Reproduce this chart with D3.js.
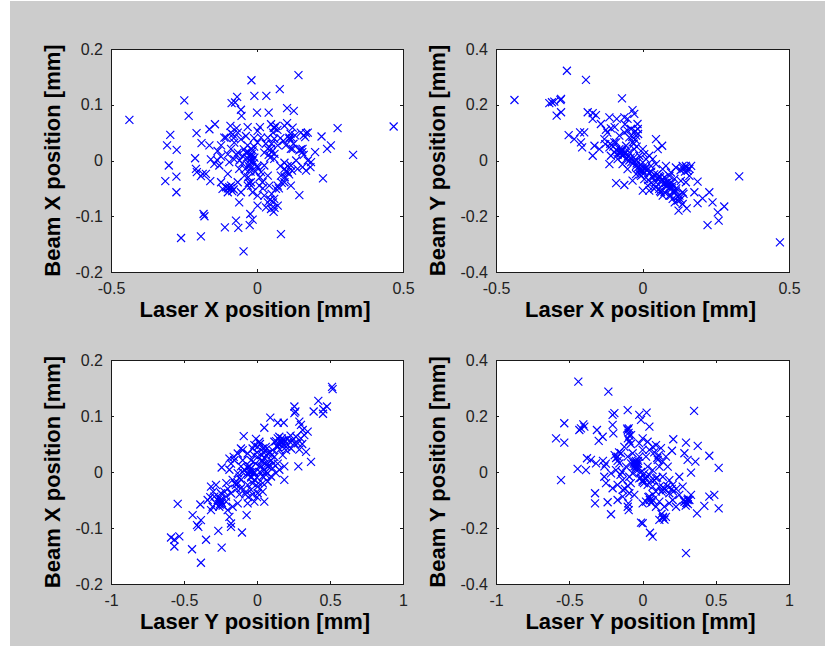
<!DOCTYPE html>
<html>
<head>
<meta charset="utf-8">
<script src="https://cdn.jsdelivr.net/npm/d3@7"></script>
<style>
  html, body { margin: 0; padding: 0; background: #ffffff; }
  svg { display: block; }
</style>
</head>
<body>
<svg id="chart" width="825" height="646"></svg>
<script>
// ---------------- DATA ----------------
// Panel 1: Laser X position [mm] vs Beam X position [mm]
const laserXvsBeamX = [
[-0.437,0.073],[0.468,0.061],[0.142,0.153],[-0.019,0.144],[0.078,0.128],[-0.249,0.108],[-0.234,0.080],
[-0.068,0.114],[-0.087,0.103],[-0.075,0.104],[-0.055,0.091],[-0.053,0.080],
[-0.009,0.116],[0.032,0.116],[0.000,0.086],[0.040,0.086],[0.103,0.094],[0.126,0.089],
[0.276,0.058],[0.329,0.010],[0.226,-0.032],[0.221,0.043],[0.253,0.027],[0.240,0.021],[0.199,0.015],[0.185,-0.003],[0.183,-0.012],
[0.145,-0.062],[0.082,-0.132],[-0.046,-0.163],[-0.023,-0.096],[-0.015,-0.106],[-0.025,-0.116],[-0.072,-0.108],[-0.064,-0.121],
[-0.110,-0.120],[-0.192,-0.136],[-0.260,-0.139],[-0.183,-0.096],[-0.180,-0.100],
[-0.276,-0.057],[-0.314,-0.037],[-0.276,-0.029],[-0.302,-0.009],[-0.275,0.019],[-0.308,0.027],[-0.297,0.046],
[-0.212,0.004],[-0.207,0.049],[-0.209,-0.015],[-0.206,-0.021],[-0.190,0.031],[-0.163,0.027],[-0.192,-0.028],[-0.175,-0.024],
[-0.160,-0.037],[-0.163,0.056],[-0.144,0.065],[-0.123,0.027],[-0.123,0.007],[-0.137,0.001],[-0.112,0.041],
[-0.091,0.062],[-0.066,0.050],[-0.032,0.060],[0.002,0.053],[0.048,0.065],[0.057,0.059],[0.094,0.062],[0.111,0.041],
[0.122,0.059],[0.103,0.067],[0.059,0.039],[0.168,0.049],[0.174,0.050],[0.156,0.021],[0.145,0.018],[0.122,0.021],
[-0.021,0.021],[-0.021,0.009],[-0.015,0.000],[-0.026,-0.006],[-0.023,-0.015],[-0.038,0.014],[-0.009,0.005],[-0.032,0.027],
[-0.049,0.008],[-0.066,0.014],[-0.078,0.002],[-0.095,-0.003],[-0.061,-0.015],[-0.043,-0.027],[-0.066,-0.039],[-0.089,-0.045],
[-0.106,-0.048],[-0.118,-0.051],[-0.100,-0.057],[-0.055,-0.057],[-0.021,-0.039],[-0.015,-0.057],[-0.061,-0.075],[0.002,-0.063],
[0.019,-0.039],[0.025,-0.063],[0.037,-0.075],[0.048,-0.087],[0.031,-0.084],[0.059,-0.069],[0.065,-0.051],[0.071,-0.045],
[0.094,-0.039],[0.116,-0.045],[0.082,-0.027],[0.094,-0.015],[0.105,-0.021],[0.059,0.003],[0.071,0.027],[0.037,0.021],
[0.025,0.014],[0.048,0.021],[0.002,0.032],[0.014,0.041],[0.037,0.041],[0.094,-0.004],[0.116,-0.009],[0.134,0.000],
[0.139,-0.015],[0.156,-0.012],[0.174,0.000],[0.168,-0.018],[0.116,0.021],[0.099,0.027],[0.111,0.039],[0.025,-0.009],
[0.014,-0.021],[0.002,-0.013],[0.037,-0.027],[0.042,-0.045],[0.008,-0.045],[-0.129,-0.009],[-0.146,-0.006],[-0.158,0.002],
[-0.135,0.017],[-0.100,0.011],[-0.089,0.021],[-0.078,0.032],[-0.055,0.038],[-0.038,0.044],[-0.083,0.047],[-0.106,0.041],
[-0.123,-0.039],[-0.032,-0.045],[0.002,-0.081],[0.071,-0.081],[0.057,-0.092],[-0.100,-0.024],[-0.186,-0.024],
[-0.020,0.005],[-0.018,0.012],[-0.025,0.000],[-0.030,0.015],[-0.012,-0.005],[-0.028,-0.010],[-0.015,0.018],[-0.035,0.005],
[-0.022,-0.020],[-0.010,0.025],[-0.040,-0.015],[-0.005,-0.020],[-0.028,-0.040],[-0.020,-0.045],[-0.030,-0.030],
[0.040,0.010],[0.050,0.015],[0.045,0.005],[0.060,0.012],[0.030,0.030],
[0.100,-0.020],[0.110,-0.025],[0.095,-0.030],[0.120,-0.018],[0.105,-0.010],
[0.120,0.040],[0.115,0.048],[0.130,0.045],[0.125,0.030],[0.160,0.045],[0.165,0.042],[0.150,0.050],
[0.155,0.015],[0.160,0.010],[0.150,0.020],[0.060,0.058],[0.065,0.062],[0.070,0.055],[0.055,0.050],[0.050,0.030],
[-0.090,-0.050],[-0.085,-0.055],[-0.095,-0.048],[-0.080,-0.052],[-0.100,-0.050],
[-0.060,0.000],[-0.050,-0.005],[-0.070,0.010],[-0.045,0.020],
[0.000,-0.010],[0.010,-0.030],[0.020,-0.050],[0.050,-0.060],[0.055,-0.075],[0.060,-0.085],[0.045,-0.070],
[0.080,-0.010],[0.075,-0.050],[0.085,-0.040],[-0.080,0.040],[-0.090,0.050],[-0.070,0.058],[-0.010,0.040],
[0.010,0.060],[0.080,0.040],[0.090,0.035]
];

// Panel 2: Laser X position [mm] vs Beam Y position [mm]
const laserXvsBeamY = [
[-0.437,0.217],[-0.258,0.322],[-0.193,0.289],[-0.070,0.223],[-0.318,0.206],[-0.309,0.209],[-0.301,0.211],[-0.278,0.221],
[-0.280,0.217],[-0.293,0.161],[-0.278,0.173],[0.330,-0.057],[0.469,-0.294],[0.222,-0.232],[0.260,-0.216],[0.257,-0.186],
[0.279,-0.165],[0.239,-0.150],[0.228,-0.114],[0.188,-0.153],[0.205,-0.136],[0.123,-0.180],[0.151,-0.172],[0.137,-0.156],
[0.188,-0.076],[0.177,-0.114],[0.160,-0.055],[0.154,-0.037],[0.137,-0.019],[0.114,-0.025],[0.103,-0.138],[0.092,-0.126],
[0.069,-0.126],[0.063,-0.114],[0.001,-0.108],[0.023,-0.108],[-0.090,-0.081],[-0.062,-0.088],[-0.113,-0.013],[-0.170,0.017],
[-0.164,0.053],[-0.147,0.041],[-0.252,0.091],[-0.233,0.077],[-0.210,0.065],[-0.206,0.047],[-0.199,0.101],[-0.213,0.101],
[-0.187,0.173],[-0.170,0.170],[-0.159,0.163],[-0.170,0.149],[-0.142,0.131],[-0.113,0.155],[-0.108,0.115],[-0.088,0.149],
[-0.062,0.155],[-0.051,0.149],[-0.034,0.181],[-0.028,0.167],[-0.017,0.131],[-0.130,0.077],[-0.127,0.059],[-0.113,0.047],
[-0.096,0.065],[-0.079,0.089],[-0.062,0.101],[-0.051,0.107],[0.046,0.077],[0.067,0.053],[0.052,0.041],
[-0.096,0.029],[-0.079,0.041],[-0.068,0.017],[-0.085,0.005],[-0.056,0.005],[-0.068,-0.013],[-0.045,0.029],[-0.034,0.065],
[-0.022,0.089],[-0.016,0.113],[-0.028,0.041],[-0.039,-0.007],[-0.022,-0.019],[-0.011,-0.037],[-0.005,-0.055],[-0.022,-0.049],
[0.001,-0.007],[0.012,-0.025],[0.023,-0.043],[0.006,-0.067],[0.035,-0.061],[0.046,-0.078],[0.057,-0.055],[0.069,-0.073],
[0.080,-0.090],[0.092,-0.102],[0.086,-0.078],[0.103,-0.090],[0.114,-0.108],[0.126,-0.126],[0.120,-0.144],[0.137,-0.114],
[0.069,-0.031],[0.046,-0.013],[0.035,0.005],[0.023,0.017],[0.006,0.023],[-0.011,0.017],[-0.051,-0.031],[-0.034,-0.072],
[0.018,-0.090],[0.040,-0.102],[0.075,-0.114],[0.097,-0.126],[0.057,-0.102],[0.148,-0.078],[0.131,-0.073],[0.166,-0.019],
[0.148,-0.019],[0.001,0.041],[0.012,0.005],[0.029,-0.019],[-0.090,0.065],[-0.108,0.017],[-0.056,0.053],[-0.045,0.083],
[-0.039,0.113],[0.001,-0.025],[0.092,-0.055],[0.109,-0.066],[0.097,-0.043],[0.080,-0.019],
[-0.074,0.030],[-0.060,0.025],[-0.030,0.010],[-0.020,0.000],[0.015,-0.035],[0.050,-0.050],[0.075,-0.060],[0.100,-0.080],
[-0.080,0.030],[-0.075,0.025],[-0.070,0.035],[-0.085,0.020],[-0.065,0.020],[-0.072,0.040],[-0.060,0.032],[-0.090,0.038],
[-0.010,-0.030],[-0.005,-0.040],[0.000,-0.035],[-0.015,-0.025],[0.005,-0.045],[-0.008,-0.050],[0.010,-0.030],
[-0.030,0.060],[-0.025,0.075],[-0.020,0.050],[-0.035,0.085],[-0.015,0.095],[-0.025,0.105],
[0.090,-0.085],[0.095,-0.095],[0.100,-0.100],[0.085,-0.090],[0.105,-0.110],[0.110,-0.115],[0.080,-0.080],[0.115,-0.100],
[0.060,-0.060],[0.065,-0.070],[0.050,-0.065],[0.040,-0.050],[0.030,-0.040],[0.070,-0.085],
[0.140,-0.030],[0.150,-0.025],[0.160,-0.030],[0.145,-0.040],[0.130,-0.035],
[-0.050,0.015],[-0.040,0.010],[-0.045,0.000],[-0.030,-0.005],[-0.020,-0.010],
[0.120,-0.130],[0.130,-0.140],[0.110,-0.150],[0.140,-0.120],
[-0.100,0.050],[-0.110,0.060],[-0.120,0.100],[-0.125,0.110],[-0.095,0.120],[-0.060,0.130],
[0.020,-0.070],[0.030,-0.080],[0.045,-0.095],[0.060,-0.110]
];

// Panel 3: Laser Y position [mm] vs Beam X position [mm]
const laserYvsBeamX = [
[0.518,0.148],[0.514,0.152],[0.420,0.127],[0.388,0.108],[0.454,0.112],[0.479,0.117],[0.452,0.104],[0.256,0.117],
[0.263,0.108],[0.256,0.105],[0.091,0.097],[0.142,0.088],[0.183,0.088],[0.050,0.079],[0.290,0.090],[0.301,0.084],
[0.313,0.075],[0.347,0.072],[0.324,0.066],[0.336,0.036],[0.370,0.018],[0.283,0.010],[0.187,-0.014],[-0.091,0.064],
[-0.007,0.059],[-0.242,0.008],[-0.543,-0.057],[-0.441,-0.077],[-0.384,-0.086],[-0.411,-0.095],[-0.402,-0.098],
[-0.589,-0.117],[-0.566,-0.121],[-0.532,-0.115],[-0.566,-0.133],[-0.445,-0.138],[-0.384,-0.162],[-0.349,-0.121],
[-0.242,-0.135],[-0.265,-0.105],[-0.178,-0.092],[-0.178,-0.098],[-0.103,-0.108],[-0.071,-0.077],[-0.189,-0.080],
[-0.201,-0.068],[-0.388,-0.058],[-0.315,-0.068],[-0.304,-0.062],[-0.338,-0.050],[-0.315,-0.026],[-0.281,-0.023],
[-0.292,-0.044],[-0.269,-0.050],[-0.247,-0.053],[-0.258,-0.062],[-0.281,-0.056],[-0.224,-0.035],[-0.212,-0.044],
[-0.178,-0.038],[-0.167,-0.062],[-0.132,-0.056],[-0.064,-0.056],[-0.018,-0.053],[0.050,-0.053],
[-0.087,0.004],[-0.041,-0.008],[-0.064,-0.002],[-0.110,-0.014],[-0.132,-0.002],[-0.098,0.021],[-0.041,0.021],[0.005,0.027],
[0.016,0.010],[0.050,0.004],[0.073,0.015],[0.096,0.021],[0.119,0.027],[0.142,0.045],[0.164,0.051],[0.187,0.057],
[0.210,0.048],[0.233,0.042],[0.256,0.051],[0.267,0.063],[0.142,0.060],[0.119,0.054],[0.107,0.039],[0.073,0.033],
[0.039,0.042],[0.005,0.045],[-0.030,0.042],[-0.064,0.033],[-0.098,0.039],[-0.132,0.033],[-0.155,0.021],[-0.178,0.015],
[-0.189,0.004],[-0.167,-0.014],[-0.144,-0.023],[-0.110,-0.029],[-0.075,-0.035],[-0.041,-0.032],[0.005,-0.026],[0.039,-0.020],
[0.073,-0.017],[0.096,-0.008],[0.130,-0.002],[0.153,0.004],[0.187,0.010],[0.142,0.015],[0.039,-0.008],[-0.018,-0.014],
[-0.064,-0.023],[-0.189,0.024],[-0.110,0.010],[-0.018,-0.002],[0.062,-0.005],[0.107,0.007],[0.176,0.030],[0.199,0.039],
[0.244,0.057],[0.279,0.051],[0.153,0.063],[-0.110,0.042],[-0.160,0.027],[-0.247,-0.038],[-0.212,-0.053],[0.005,-0.038],
[0.039,-0.035],[0.073,0.010],[-0.018,0.048],[0.016,0.054],
[-0.050,0.010],[-0.020,0.000],[0.030,0.020],[0.090,0.035],[0.170,0.055],[-0.120,-0.040],[-0.030,-0.020],[0.060,0.045],
[-0.050,0.000],[-0.045,0.005],[-0.060,-0.005],[-0.040,-0.010],[-0.055,0.010],[-0.035,0.000],[-0.065,0.008],
[0.040,0.020],[0.050,0.025],[0.035,0.030],[0.055,0.015],[0.045,0.035],[0.030,0.010],
[0.150,0.050],[0.160,0.055],[0.140,0.045],[0.170,0.060],[0.155,0.040],[0.180,0.050],[0.130,0.055],
[-0.250,-0.050],[-0.240,-0.055],[-0.260,-0.045],[-0.235,-0.060],[-0.255,-0.058],
[-0.150,-0.020],[-0.140,-0.030],[-0.130,-0.020],[-0.120,-0.010],[-0.100,0.000],
[0.000,-0.010],[0.010,-0.020],[0.020,0.000],[0.060,0.000],[0.080,0.010],[0.100,0.030],[0.110,0.015],
[-0.020,0.030],[-0.010,0.015],[0.000,0.035],[0.020,0.050],[0.060,0.040],
[0.210,0.060],[0.220,0.055],[0.230,0.065],[0.200,0.045],
[-0.080,-0.040],[-0.060,-0.045],[-0.030,-0.040],[0.000,-0.045],[0.020,-0.030],
[-0.200,-0.030],[-0.210,-0.020],[-0.300,-0.035],[-0.320,-0.045],[0.300,0.060],[0.310,0.050],[0.290,0.040]
];

// Panel 4: Laser Y position [mm] vs Beam Y position [mm]
const laserYvsBeamY = [
[-0.438,0.323],[-0.233,0.287],[0.352,0.218],[-0.101,0.221],[-0.192,0.210],[-0.204,0.204],[-0.022,0.204],[0.028,0.212],
[-0.010,0.186],[-0.534,0.174],[-0.590,0.120],[-0.534,0.105],[-0.404,0.170],[-0.420,0.156],[-0.397,0.162],[-0.431,0.150],
[-0.311,0.150],[-0.272,0.126],[-0.299,0.111],[-0.204,0.168],[-0.199,0.138],[-0.094,0.156],[-0.078,0.132],[0.047,0.162],
[0.001,0.120],[0.035,0.108],[0.210,0.117],[0.297,0.105],[0.377,0.093],[0.456,0.058],[0.520,0.015],[0.201,0.076],
[0.286,0.067],[0.361,0.037],[0.331,-0.002],[0.308,0.043],[-0.556,-0.029],[-0.443,0.011],[-0.386,0.007],[-0.379,0.049],
[-0.352,0.043],[-0.317,0.031],[-0.324,-0.076],[-0.324,-0.112],[-0.238,-0.108],[-0.215,-0.151],[-0.097,-0.112],
[-0.094,-0.136],[-0.101,-0.124],[-0.010,-0.181],[0.001,-0.183],[0.051,-0.217],[0.069,-0.231],[0.297,-0.290],
[0.115,-0.171],[0.138,-0.165],[0.160,-0.160],[0.372,-0.148],[0.422,-0.121],[0.456,-0.088],[0.490,-0.082],[0.520,-0.130],
[0.286,-0.106],[0.308,-0.100],[0.331,-0.082],[0.251,-0.082],[0.229,-0.124],[0.183,-0.112],[0.251,-0.017],[0.183,-0.029],
[0.183,-0.076],[0.138,-0.064],[0.115,-0.052],[0.092,-0.070],[0.047,-0.088],[0.024,-0.106],[0.001,-0.112],
[-0.044,0.019],[-0.056,0.037],[-0.033,0.007],[-0.067,-0.005],[-0.090,-0.017],[-0.022,-0.023],[0.001,-0.035],[0.035,-0.046],
[0.069,-0.052],[0.104,0.043],[0.138,0.037],[0.115,0.019],[0.069,0.007],[0.035,0.019],[0.024,0.055],[0.047,0.079],
[0.069,0.090],[0.092,0.096],[0.126,0.085],[0.001,0.079],[-0.022,0.102],[-0.124,0.090],[-0.147,0.067],[-0.170,0.055],
[-0.158,0.031],[-0.181,0.007],[-0.215,-0.005],[-0.261,-0.017],[-0.249,-0.040],[-0.204,-0.058],[-0.170,-0.046],[-0.135,-0.064],
[-0.090,-0.076],[-0.056,-0.082],[-0.135,-0.029],[-0.113,0.019],[-0.101,0.055],[-0.067,0.067],[-0.078,0.031],[-0.022,0.055],
[0.013,-0.005],[0.047,-0.011],[0.092,-0.023],[0.138,-0.017],[0.172,0.019],[0.160,0.055],[0.206,-0.046],[0.274,-0.052],
[0.206,-0.100],[0.149,-0.124],[0.115,-0.106],[0.069,-0.100],[0.092,-0.124],[-0.170,-0.100],[-0.135,-0.088],
[-0.040,0.030],[-0.050,0.010],[-0.030,0.040],[-0.010,0.000],[0.020,-0.020],[0.060,-0.030],[0.300,-0.110],[0.310,-0.095],
[-0.045,0.025],[-0.040,0.035],[-0.050,0.030],[-0.055,0.020],[-0.035,0.020],[-0.045,0.040],[-0.060,0.030],[-0.030,0.030],
[0.290,-0.105],[0.300,-0.110],[0.310,-0.115],[0.280,-0.100],[0.320,-0.100],[0.295,-0.120],
[-0.100,0.150],[-0.095,0.140],[-0.105,0.155],[-0.090,0.130],
[0.000,-0.030],[0.010,-0.040],[-0.010,-0.020],[0.020,-0.025],
[0.150,-0.060],[0.160,-0.065],[0.140,-0.055],[0.130,-0.070],[0.170,-0.050],
[-0.180,0.050],[-0.170,0.040],[-0.190,0.060],[-0.160,0.070],
[0.050,-0.100],[0.060,-0.110],[0.040,-0.090],[0.070,-0.080],[0.100,0.050],[0.110,0.060],[0.080,0.070],
[-0.250,0.030],[-0.260,0.020],[-0.270,0.040],[0.200,-0.060],[0.210,-0.070],[0.230,-0.060],
[-0.120,-0.060],[-0.100,-0.050],[-0.080,-0.040],[0.140,-0.160],[0.150,-0.170],[0.130,-0.150],
[-0.100,0.120],[-0.090,0.110],[-0.080,0.100],[-0.150,-0.010],[-0.140,0.000],[0.080,-0.030],[0.100,-0.020]
];

// Tick values and labels
const xTicksTop = [-0.5, 0, 0.5];
const xTickLabelsTop = ["-0.5", "0", "0.5"];
const xTicksBottom = [-1, -0.5, 0, 0.5, 1];
const xTickLabelsBottom = ["-1", "-0.5", "0", "0.5", "1"];
const yTicksBeamX = [-0.2, -0.1, 0, 0.1, 0.2];
const yTickLabelsBeamX = ["-0.2", "-0.1", "0", "0.1", "0.2"];
const yTicksBeamY = [-0.4, -0.2, 0, 0.2, 0.4];
const yTickLabelsBeamY = ["-0.4", "-0.2", "0", "0.2", "0.4"];

const panels = [
  { data: laserXvsBeamX, xDomain: [-0.5, 0.5], yDomain: [-0.2, 0.2], xTicks: xTicksTop, xLabels: xTickLabelsTop,
    yTicks: yTicksBeamX, yLabels: yTickLabelsBeamX, xTitle: "Laser X position [mm]", yTitle: "Beam X position [mm]",
    x0: 111, x1: 403, y0: 49, y1: 272 },
  { data: laserXvsBeamY, xDomain: [-0.5, 0.5], yDomain: [-0.4, 0.4], xTicks: xTicksTop, xLabels: xTickLabelsTop,
    yTicks: yTicksBeamY, yLabels: yTickLabelsBeamY, xTitle: "Laser X position [mm]", yTitle: "Beam Y position [mm]",
    x0: 496, x1: 789, y0: 49, y1: 272 },
  { data: laserYvsBeamX, xDomain: [-1, 1], yDomain: [-0.2, 0.2], xTicks: xTicksBottom, xLabels: xTickLabelsBottom,
    yTicks: yTicksBeamX, yLabels: yTickLabelsBeamX, xTitle: "Laser Y position [mm]", yTitle: "Beam X position [mm]",
    x0: 111, x1: 403, y0: 360, y1: 584 },
  { data: laserYvsBeamY, xDomain: [-1, 1], yDomain: [-0.4, 0.4], xTicks: xTicksBottom, xLabels: xTickLabelsBottom,
    yTicks: yTicksBeamY, yLabels: yTickLabelsBeamY, xTitle: "Laser Y position [mm]", yTitle: "Beam Y position [mm]",
    x0: 496, x1: 789, y0: 360, y1: 584 }
];

// ---------------- DRAW ----------------
const svg = d3.select("#chart");
const FONT = "'Liberation Sans', Arial, Helvetica, sans-serif";

svg.append("rect").attr("x", 0).attr("y", 0).attr("width", 825).attr("height", 646).attr("fill", "#ffffff");
svg.append("rect").attr("x", 10).attr("y", 1).attr("width", 815).attr("height", 645).attr("fill", "#cccccc");

panels.forEach(p => {
  const x = d3.scaleLinear().domain(p.xDomain).range([p.x0, p.x1]);
  const y = d3.scaleLinear().domain(p.yDomain).range([p.y1, p.y0]);
  const g = svg.append("g");

  g.append("rect")
    .attr("x", p.x0).attr("y", p.y0)
    .attr("width", p.x1 - p.x0).attr("height", p.y1 - p.y0)
    .attr("fill", "#ffffff");

  // markers
  const s = 4;
  g.append("g").selectAll("path").data(p.data).join("path")
    .attr("transform", d => `translate(${x(d[0])},${y(d[1])})`)
    .attr("d", `M${-s},${-s}L${s},${s}M${-s},${s}L${s},${-s}`)
    .attr("fill", "none")
    .attr("stroke", "#0000ff")
    .attr("stroke-width", 1.15);

  const tickLen = 3;
  const styleAxis = (sel) => {
    sel.selectAll("path.domain").attr("stroke", "#1a1a1a").attr("stroke-width", 1).attr("shape-rendering", "crispEdges");
    sel.selectAll(".tick line").attr("stroke", "#1a1a1a").attr("shape-rendering", "crispEdges");
    sel.selectAll(".tick text").attr("font-family", FONT).attr("font-size", 16).attr("fill", "#222222");
  };

  g.append("g").attr("transform", `translate(0,${p.y1})`)
    .call(d3.axisBottom(x).tickValues(p.xTicks).tickFormat((d, i) => p.xLabels[i])
      .tickSizeInner(-tickLen).tickSizeOuter(0).tickPadding(11))
    .call(styleAxis);
  g.append("g").attr("transform", `translate(0,${p.y0})`)
    .call(d3.axisTop(x).tickValues(p.xTicks).tickFormat("")
      .tickSizeInner(-tickLen).tickSizeOuter(0))
    .call(styleAxis);
  g.append("g").attr("transform", `translate(${p.x0},0)`)
    .call(d3.axisLeft(y).tickValues(p.yTicks).tickFormat((d, i) => p.yLabels[i])
      .tickSizeInner(-tickLen).tickSizeOuter(0).tickPadding(8))
    .call(styleAxis);
  g.append("g").attr("transform", `translate(${p.x1},0)`)
    .call(d3.axisRight(y).tickValues(p.yTicks).tickFormat("")
      .tickSizeInner(-tickLen).tickSizeOuter(0))
    .call(styleAxis);

  // axis titles
  g.append("text")
    .attr("x", (p.x0 + p.x1) / 2 - 2)
    .attr("y", p.y1 + 45)
    .attr("text-anchor", "middle")
    .attr("font-family", FONT).attr("font-weight", "bold").attr("font-size", 22)
    .attr("fill", "#000000")
    .text(p.xTitle);

  g.append("text")
    .attr("transform", `translate(${p.x0 - 51},${(p.y0 + p.y1) / 2}) rotate(-90)`)
    .attr("text-anchor", "middle")
    .attr("font-family", FONT).attr("font-weight", "bold").attr("font-size", 22)
    .attr("fill", "#000000")
    .text(p.yTitle);
});
</script>
</body>
</html>
